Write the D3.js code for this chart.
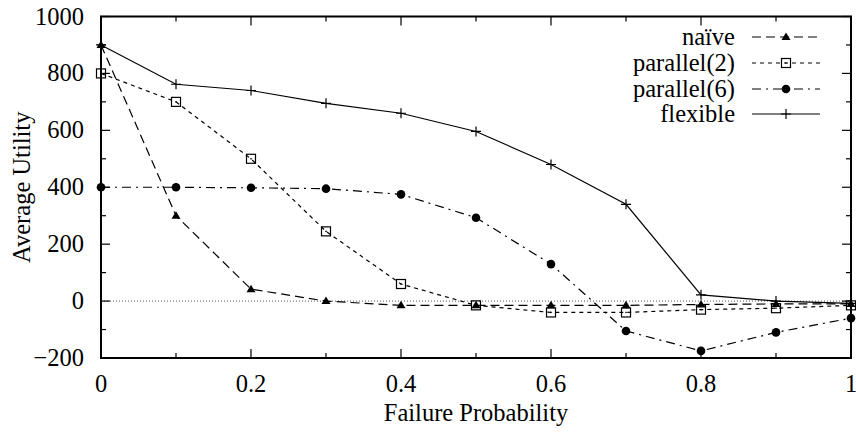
<!DOCTYPE html>
<html>
<head>
<meta charset="utf-8">
<script src="https://cdn.jsdelivr.net/npm/d3@7"></script>
<style>
  body { margin: 0; background: #fff; }
</style>
</head>
<body>
<div id="chart"></div>
<script>
// data
var probs = [0, 0.1, 0.2, 0.3, 0.4, 0.5, 0.6, 0.7, 0.8, 0.9, 1.0];
var naive = [900, 300, 42, 0, -15, -15, -15, -15, -12, -10, -10];
var parallel2 = [800, 700, 500, 245, 60, -15, -40, -40, -30, -25, -15];
var parallel6 = [400, 400, 398, 395, 375, 293, 130, -105, -175, -110, -60];
var flexible = [900, 762, 740, 695, 660, 596, 480, 340, 22, 0, -8];

var xTicks = [0, 0.2, 0.4, 0.6, 0.8, 1];
var yTicks = [-200, 0, 200, 400, 600, 800, 1000];
var seriesNames = ["naïve", "parallel(2)", "parallel(6)", "flexible"];

var W = 856, H = 433;
var margin = {top: 16.5, right: 5, bottom: 75, left: 101};
var w = W - margin.left - margin.right;
var h = H - margin.top - margin.bottom;
var FONT = "Liberation Serif";
var FS = 24.5;

var svg = d3.select("#chart").append("svg")
    .attr("width", W).attr("height", H);
var g = svg.append("g").attr("transform", "translate(" + margin.left + "," + margin.top + ")");

var x = d3.scaleLinear().domain([0, 1]).range([0, 750]);
var y = d3.scaleLinear().domain([-200, 1000]).range([h, 0]);

// styles per series
var series = [
    {name: seriesNames[0], values: naive, dash: "9,5", marker: "tri"},
    {name: seriesNames[1], values: parallel2, dash: "4,4", marker: "box"},
    {name: seriesNames[2], values: parallel6, dash: "9,5,2,5", marker: "dot"},
    {name: seriesNames[3], values: flexible, dash: null, marker: "plus"}
];

function label(sel) {
    return sel.style("font-family", FONT).style("font-size", FS + "px").attr("fill", "#000");
}

// zero line
g.append("line")
    .attr("x1", x(0)).attr("x2", x(1))
    .attr("y1", y(0)).attr("y2", y(0))
    .attr("stroke", "#555").attr("stroke-width", 1)
    .attr("stroke-dasharray", "1,2");

var line = d3.line()
    .x(function(d, i) { return x(probs[i]); })
    .y(function(d) { return y(d); });

function drawMarker(sel, type, cx, cy) {
    if (type == "tri") {
        sel.append("path")
            .attr("d", "M" + cx + "," + (cy - 4.5) + "L" + (cx + 4.5) + "," + (cy + 3) + "L" + (cx - 4.5) + "," + (cy + 3) + "Z")
            .attr("fill", "#000");
    } else if (type == "box") {
        sel.append("rect")
            .attr("x", cx - 4.5).attr("y", cy - 4.5).attr("width", 9).attr("height", 9)
            .attr("fill", "none").attr("stroke", "#000").attr("stroke-width", 1.2);
        sel.append("rect")
            .attr("x", cx - 0.7).attr("y", cy - 0.7).attr("width", 1.4).attr("height", 1.4)
            .attr("fill", "#000");
    } else if (type == "dot") {
        sel.append("circle").attr("cx", cx).attr("cy", cy).attr("r", 4.3).attr("fill", "#000");
    } else {
        sel.append("path")
            .attr("d", "M" + (cx - 5) + "," + cy + "H" + (cx + 5) + "M" + cx + "," + (cy - 5) + "V" + (cy + 5))
            .attr("stroke", "#000").attr("stroke-width", 1.2);
    }
}

series.forEach(function(s) {
    g.append("path")
        .datum(s.values)
        .attr("d", line)
        .attr("fill", "none")
        .attr("stroke", "#000")
        .attr("stroke-width", 1.2)
        .attr("stroke-dasharray", s.dash);
    var mk = g.append("g");
    s.values.forEach(function(v, i) {
        drawMarker(mk, s.marker, x(probs[i]), y(v));
    });
});

// axes with inward ticks, mirrored
var yMinor = d3.range(-100, 1000, 200);
var xMinor = [0.1, 0.3, 0.5, 0.7, 0.9];
var ticksG = g.append("g").attr("stroke", "#000").attr("stroke-width", 1.2);
yTicks.forEach(function(t) {
    ticksG.append("line").attr("x1", 0).attr("x2", 9).attr("y1", y(t)).attr("y2", y(t));
    ticksG.append("line").attr("x1", x(1)).attr("x2", x(1) - 9).attr("y1", y(t)).attr("y2", y(t));
});
yMinor.forEach(function(t) {
    ticksG.append("line").attr("x1", 0).attr("x2", 5).attr("y1", y(t)).attr("y2", y(t));
    ticksG.append("line").attr("x1", x(1)).attr("x2", x(1) - 5).attr("y1", y(t)).attr("y2", y(t));
});
xTicks.forEach(function(t) {
    ticksG.append("line").attr("x1", x(t)).attr("x2", x(t)).attr("y1", h).attr("y2", h - 9);
    ticksG.append("line").attr("x1", x(t)).attr("x2", x(t)).attr("y1", 0).attr("y2", 9);
});
xMinor.forEach(function(t) {
    ticksG.append("line").attr("x1", x(t)).attr("x2", x(t)).attr("y1", h).attr("y2", h - 5);
    ticksG.append("line").attr("x1", x(t)).attr("x2", x(t)).attr("y1", 0).attr("y2", 5);
});

g.append("rect")
    .attr("x", 0).attr("y", 0).attr("width", x(1)).attr("height", h)
    .attr("fill", "none").attr("stroke", "#000").attr("stroke-width", 2);

// tick labels
g.selectAll(".ylab").data(yTicks).enter().append("text")
    .attr("class", "ylab")
    .call(label)
    .attr("x", -17).attr("y", function(d) { return y(d) + 8; })
    .attr("text-anchor", "end")
    .text(function(d) { return d < 0 ? "\u2212" + Math.abs(d) : d; });

g.selectAll(".xlab").data(xTicks).enter().append("text")
    .attr("class", "xlab")
    .call(label)
    .attr("x", function(d) { return x(d); })
    .attr("y", h + 34)
    .attr("text-anchor", "middle")
    .text(function(d) { return d; });

svg.append("text")
    .call(label)
    .attr("x", margin.left + x(0.5)).attr("y", 421)
    .attr("text-anchor", "middle")
    .text("Failure Probability");

svg.append("text")
    .call(label)
    .attr("transform", "translate(30," + (margin.top + h / 2) + ") rotate(-90)")
    .attr("text-anchor", "middle")
    .text("Average Utility");

// legend
var legY = [37, 63, 89, 114];
var leg = svg.append("g");
series.forEach(function(s, i) {
    leg.append("text")
        .call(label)
        .attr("x", 735).attr("y", legY[i] + 8)
        .attr("text-anchor", "end")
        .text(s.name);
    leg.append("line")
        .attr("x1", 752).attr("x2", 820)
        .attr("y1", legY[i]).attr("y2", legY[i])
        .attr("stroke", "#000").attr("stroke-width", 1.2)
        .attr("stroke-dasharray", s.dash);
    drawMarker(leg, s.marker, 786, legY[i]);
});
</script>
</body>
</html>
